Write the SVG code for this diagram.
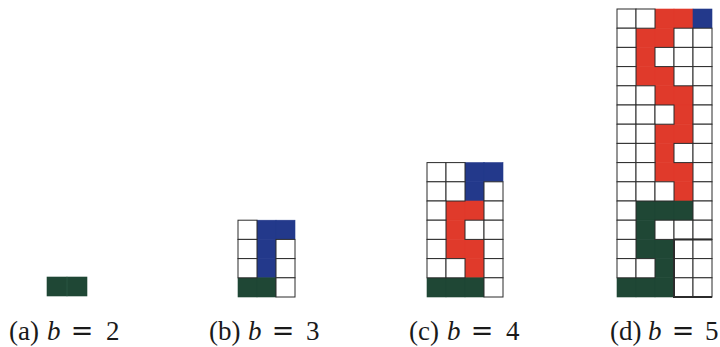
<svg xmlns="http://www.w3.org/2000/svg" width="720" height="347" viewBox="0 0 720 347">
<style>
.g{fill:#1f4735;stroke:#1f4735;stroke-width:0.6}
.b{fill:#23398b;stroke:#23398b;stroke-width:0.6}
.r{fill:#e03a2b;stroke:#e03a2b;stroke-width:0.6}
.w{fill:#ffffff;stroke:#2b2b2b;stroke-width:1}
.lbl{font-family:"Liberation Serif","DejaVu Serif",serif;font-size:27px;fill:#1a1a1a}
.it{font-style:italic}
.eq{font-family:"DejaVu Serif",serif;font-size:27px;fill:#1a1a1a}
.thick{stroke:#2b2b2b;stroke-width:2;fill:none}
</style>
<rect width="720" height="347" fill="#ffffff"/>

<g id="panel-a">
<rect class="g" x="47" y="277" width="20" height="19"/>
<rect class="g" x="67" y="277" width="20" height="19"/>
<line x1="67" y1="277" x2="67" y2="296" stroke="#2f5a47" stroke-width="0.8"/>
</g>

<g id="panel-b">
<rect class="b" x="257" y="220.2" width="19" height="19.2"/>
<rect class="b" x="276" y="220.2" width="19" height="19.2"/>
<rect class="b" x="257" y="239.4" width="19" height="19.2"/>
<rect class="b" x="257" y="258.6" width="19" height="19.2"/>
<rect class="g" x="238" y="277.8" width="19" height="19.2"/>
<rect class="g" x="257" y="277.8" width="19" height="19.2"/>
<rect class="w" x="238" y="220.2" width="19" height="19.2"/>
<rect class="w" x="238" y="239.4" width="19" height="19.2"/>
<rect class="w" x="276" y="239.4" width="19" height="19.2"/>
<rect class="w" x="238" y="258.6" width="19" height="19.2"/>
<rect class="w" x="276" y="258.6" width="19" height="19.2"/>
<rect class="w" x="276" y="277.8" width="19" height="19.2"/>
</g>

<g id="panel-c">
<rect class="b" x="465" y="162.6" width="19" height="19.2"/>
<rect class="b" x="484" y="162.6" width="19" height="19.2"/>
<rect class="b" x="465" y="181.8" width="19" height="19.2"/>
<rect class="r" x="446" y="201" width="19" height="19.2"/>
<rect class="r" x="465" y="201" width="19" height="19.2"/>
<rect class="r" x="446" y="220.2" width="19" height="19.2"/>
<rect class="r" x="446" y="239.4" width="19" height="19.2"/>
<rect class="r" x="465" y="239.4" width="19" height="19.2"/>
<rect class="r" x="465" y="258.6" width="19" height="19.2"/>
<rect class="g" x="427" y="277.8" width="19" height="19.2"/>
<rect class="g" x="446" y="277.8" width="19" height="19.2"/>
<rect class="g" x="465" y="277.8" width="19" height="19.2"/>
<rect class="w" x="427" y="162.6" width="19" height="19.2"/>
<rect class="w" x="446" y="162.6" width="19" height="19.2"/>
<rect class="w" x="427" y="181.8" width="19" height="19.2"/>
<rect class="w" x="446" y="181.8" width="19" height="19.2"/>
<rect class="w" x="484" y="181.8" width="19" height="19.2"/>
<rect class="w" x="427" y="201" width="19" height="19.2"/>
<rect class="w" x="484" y="201" width="19" height="19.2"/>
<rect class="w" x="427" y="220.2" width="19" height="19.2"/>
<rect class="w" x="465" y="220.2" width="19" height="19.2"/>
<rect class="w" x="484" y="220.2" width="19" height="19.2"/>
<rect class="w" x="427" y="239.4" width="19" height="19.2"/>
<rect class="w" x="484" y="239.4" width="19" height="19.2"/>
<rect class="w" x="427" y="258.6" width="19" height="19.2"/>
<rect class="w" x="446" y="258.6" width="19" height="19.2"/>
<rect class="w" x="484" y="258.6" width="19" height="19.2"/>
<rect class="w" x="484" y="277.8" width="19" height="19.2"/>
</g>

<g id="panel-d">
<rect class="r" x="655" y="9" width="19" height="19.2"/>
<rect class="r" x="674" y="9" width="19" height="19.2"/>
<rect class="b" x="693" y="9" width="19" height="19.2"/>
<rect class="r" x="636" y="28.2" width="19" height="19.2"/>
<rect class="r" x="655" y="28.2" width="19" height="19.2"/>
<rect class="r" x="636" y="47.4" width="19" height="19.2"/>
<rect class="r" x="636" y="66.6" width="19" height="19.2"/>
<rect class="r" x="655" y="66.6" width="19" height="19.2"/>
<rect class="r" x="655" y="85.8" width="19" height="19.2"/>
<rect class="r" x="674" y="85.8" width="19" height="19.2"/>
<rect class="r" x="674" y="105" width="19" height="19.2"/>
<rect class="r" x="655" y="124.2" width="19" height="19.2"/>
<rect class="r" x="674" y="124.2" width="19" height="19.2"/>
<rect class="r" x="655" y="143.4" width="19" height="19.2"/>
<rect class="r" x="655" y="162.6" width="19" height="19.2"/>
<rect class="r" x="674" y="162.6" width="19" height="19.2"/>
<rect class="r" x="674" y="181.8" width="19" height="19.2"/>
<rect class="g" x="636" y="201" width="19" height="19.2"/>
<rect class="g" x="655" y="201" width="19" height="19.2"/>
<rect class="g" x="674" y="201" width="19" height="19.2"/>
<rect class="g" x="636" y="220.2" width="19" height="19.2"/>
<rect class="g" x="636" y="239.4" width="19" height="19.2"/>
<rect class="g" x="655" y="239.4" width="19" height="19.2"/>
<rect class="g" x="655" y="258.6" width="19" height="19.2"/>
<rect class="g" x="617" y="277.8" width="19" height="19.2"/>
<rect class="g" x="636" y="277.8" width="19" height="19.2"/>
<rect class="g" x="655" y="277.8" width="19" height="19.2"/>
<rect class="w" x="617" y="9" width="19" height="19.2"/>
<rect class="w" x="636" y="9" width="19" height="19.2"/>
<rect class="w" x="617" y="28.2" width="19" height="19.2"/>
<rect class="w" x="674" y="28.2" width="19" height="19.2"/>
<rect class="w" x="693" y="28.2" width="19" height="19.2"/>
<rect class="w" x="617" y="47.4" width="19" height="19.2"/>
<rect class="w" x="655" y="47.4" width="19" height="19.2"/>
<rect class="w" x="674" y="47.4" width="19" height="19.2"/>
<rect class="w" x="693" y="47.4" width="19" height="19.2"/>
<rect class="w" x="617" y="66.6" width="19" height="19.2"/>
<rect class="w" x="674" y="66.6" width="19" height="19.2"/>
<rect class="w" x="693" y="66.6" width="19" height="19.2"/>
<rect class="w" x="617" y="85.8" width="19" height="19.2"/>
<rect class="w" x="636" y="85.8" width="19" height="19.2"/>
<rect class="w" x="693" y="85.8" width="19" height="19.2"/>
<rect class="w" x="617" y="105" width="19" height="19.2"/>
<rect class="w" x="636" y="105" width="19" height="19.2"/>
<rect class="w" x="655" y="105" width="19" height="19.2"/>
<rect class="w" x="693" y="105" width="19" height="19.2"/>
<rect class="w" x="617" y="124.2" width="19" height="19.2"/>
<rect class="w" x="636" y="124.2" width="19" height="19.2"/>
<rect class="w" x="693" y="124.2" width="19" height="19.2"/>
<rect class="w" x="617" y="143.4" width="19" height="19.2"/>
<rect class="w" x="636" y="143.4" width="19" height="19.2"/>
<rect class="w" x="674" y="143.4" width="19" height="19.2"/>
<rect class="w" x="693" y="143.4" width="19" height="19.2"/>
<rect class="w" x="617" y="162.6" width="19" height="19.2"/>
<rect class="w" x="636" y="162.6" width="19" height="19.2"/>
<rect class="w" x="693" y="162.6" width="19" height="19.2"/>
<rect class="w" x="617" y="181.8" width="19" height="19.2"/>
<rect class="w" x="636" y="181.8" width="19" height="19.2"/>
<rect class="w" x="655" y="181.8" width="19" height="19.2"/>
<rect class="w" x="693" y="181.8" width="19" height="19.2"/>
<rect class="w" x="617" y="201" width="19" height="19.2"/>
<rect class="w" x="693" y="201" width="19" height="19.2"/>
<rect class="w" x="617" y="220.2" width="19" height="19.2"/>
<rect class="w" x="655" y="220.2" width="19" height="19.2"/>
<rect class="w" x="674" y="220.2" width="19" height="19.2"/>
<rect class="w" x="693" y="220.2" width="19" height="19.2"/>
<rect class="w" x="617" y="239.4" width="19" height="19.2"/>
<rect class="w" x="674" y="239.4" width="19" height="19.2"/>
<rect class="w" x="693" y="239.4" width="19" height="19.2"/>
<rect class="w" x="617" y="258.6" width="19" height="19.2"/>
<rect class="w" x="636" y="258.6" width="19" height="19.2"/>
<rect class="w" x="674" y="258.6" width="19" height="19.2"/>
<rect class="w" x="693" y="258.6" width="19" height="19.2"/>
<rect class="w" x="674" y="277.8" width="19" height="19.2"/>
<rect class="w" x="693" y="277.8" width="19" height="19.2"/>
<path class="thick" d="M674,239.4 V297 H712 M674,239.4 H712"/>
</g>

<g id="labels">
<text class="lbl" x="9" y="340">(a)</text>
<text class="lbl it" x="47" y="340">b</text>
<text class="eq" x="82" y="340" text-anchor="middle">=</text>
<text class="lbl" x="106" y="340">2</text>

<text class="lbl" x="209" y="340">(b)</text>
<text class="lbl it" x="248" y="340">b</text>
<text class="eq" x="283" y="340" text-anchor="middle">=</text>
<text class="lbl" x="306" y="340">3</text>

<text class="lbl" x="409" y="340">(c)</text>
<text class="lbl it" x="447" y="340">b</text>
<text class="eq" x="482" y="340" text-anchor="middle">=</text>
<text class="lbl" x="506" y="340">4</text>

<text class="lbl" x="610" y="340">(d)</text>
<text class="lbl it" x="648" y="340">b</text>
<text class="eq" x="683" y="340" text-anchor="middle">=</text>
<text class="lbl" x="705" y="340">5</text>
</g>
</svg>
